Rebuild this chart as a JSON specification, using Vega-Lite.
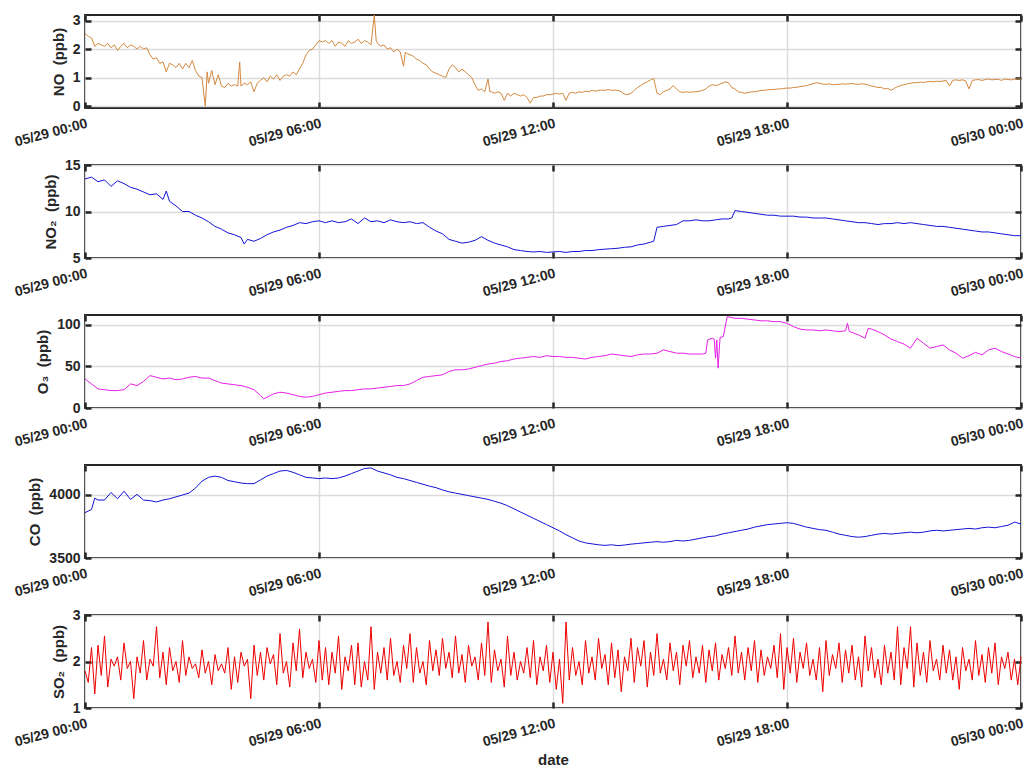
{
  "$schema": "https://vega.github.io/schema/vega-lite/v6.json",
  "background": "white",
  "padding": {"left": 11, "top": 12, "right": 0, "bottom": 0},
  "spacing": 57,
  "bounds": "flush",
  "config": {
    "font": "Liberation Sans",
    "view": {"stroke": "#262626", "strokeWidth": 2},
    "axis": {
      "labelFont": "Liberation Sans", "labelFontWeight": "bold", "labelFontSize": 14, "labelColor": "#262626",
      "titleFont": "Liberation Sans", "titleFontWeight": "bold", "titleFontSize": 15, "titleColor": "#262626",
      "tickColor": "#262626", "tickWidth": 2.5, "tickSize": -6, "domain": false,
      "gridColor": "#dcdcdc", "gridWidth": 1.5, "labelOverlap": false, "labelFlush": false
    },
    "axisX": {"labelAngle": -15, "labelAlign": "right", "labelBaseline": "top", "labelPadding": 14, "titlePadding": 4},
    "axisY": {"labelPadding": 11, "titlePadding": 6}
  },
  "datasets": {
    "no": [
      {"m":0,"v":2.55},{"m":5,"v":2.45},{"m":10,"v":2.4},{"m":15,"v":2.1},{"m":20,"v":2.2},{"m":25,"v":2.15},{"m":30,"v":2.1},{"m":35,"v":2.2},{"m":40,"v":2.05},{"m":45,"v":2.15},{"m":50,"v":1.95},{"m":55,"v":2.1},{"m":60,"v":2.2},{"m":65,"v":2.05},{"m":70,"v":2.15},{"m":75,"v":2.1},{"m":80,"v":2.0},{"m":85,"v":2.1},{"m":90,"v":2.0},{"m":95,"v":2.05},
      {"m":100,"v":1.8},{"m":105,"v":1.65},{"m":110,"v":1.7},{"m":115,"v":1.5},{"m":120,"v":1.55},{"m":125,"v":1.2},{"m":130,"v":1.5},{"m":135,"v":1.45},{"m":140,"v":1.35},{"m":145,"v":1.5},{"m":150,"v":1.3},{"m":155,"v":1.5},{"m":160,"v":1.35},{"m":165,"v":1.6},{"m":170,"v":1.25},{"m":175,"v":1.05},{"m":180,"v":1.0},{"m":185,"v":0.0},{"m":188,"v":1.2},{"m":190,"v":0.8},{"m":195,"v":1.25},
      {"m":200,"v":0.75},{"m":205,"v":1.1},{"m":210,"v":0.7},{"m":215,"v":0.65},{"m":220,"v":0.8},{"m":225,"v":0.7},{"m":230,"v":0.75},{"m":235,"v":0.7},{"m":238,"v":1.55},{"m":240,"v":0.7},{"m":245,"v":0.8},{"m":250,"v":0.75},{"m":255,"v":0.85},{"m":260,"v":0.5},{"m":265,"v":0.8},{"m":270,"v":0.9},{"m":275,"v":1.0},{"m":280,"v":0.85},{"m":285,"v":1.05},{"m":290,"v":0.95},{"m":295,"v":1.1},
      {"m":300,"v":0.9},{"m":305,"v":1.05},{"m":310,"v":1.1},{"m":315,"v":1.05},{"m":320,"v":1.2},{"m":325,"v":1.1},{"m":330,"v":1.3},{"m":335,"v":1.5},{"m":340,"v":1.8},{"m":345,"v":1.95},{"m":350,"v":2.0},{"m":355,"v":2.15},{"m":360,"v":2.3},{"m":365,"v":2.25},{"m":370,"v":2.3},{"m":375,"v":2.2},{"m":380,"v":2.3},{"m":385,"v":2.1},{"m":390,"v":2.25},{"m":395,"v":2.2},
      {"m":400,"v":2.1},{"m":405,"v":2.3},{"m":410,"v":2.2},{"m":415,"v":2.25},{"m":420,"v":2.35},{"m":425,"v":2.2},{"m":430,"v":2.3},{"m":435,"v":2.25},{"m":440,"v":2.15},{"m":445,"v":3.2},{"m":448,"v":2.3},{"m":450,"v":2.2},{"m":455,"v":2.1},{"m":460,"v":2.15},{"m":465,"v":2.0},{"m":470,"v":2.05},{"m":475,"v":1.9},{"m":480,"v":2.0},{"m":485,"v":1.9},{"m":490,"v":1.4},{"m":493,"v":1.9},{"m":495,"v":1.85},
      {"m":500,"v":1.8},{"m":505,"v":1.75},{"m":510,"v":1.65},{"m":515,"v":1.6},{"m":520,"v":1.5},{"m":525,"v":1.45},{"m":530,"v":1.3},{"m":535,"v":1.2},{"m":540,"v":1.15},{"m":545,"v":1.1},{"m":550,"v":1.05},{"m":555,"v":1.0},{"m":560,"v":1.3},{"m":565,"v":1.45},{"m":570,"v":1.35},{"m":575,"v":1.2},{"m":580,"v":1.3},{"m":585,"v":1.2},{"m":590,"v":1.1},{"m":595,"v":1.0},
      {"m":600,"v":0.75},{"m":605,"v":0.55},{"m":610,"v":0.6},{"m":615,"v":0.5},{"m":620,"v":0.95},{"m":623,"v":0.5},{"m":625,"v":0.5},{"m":630,"v":0.45},{"m":635,"v":0.5},{"m":640,"v":0.45},{"m":645,"v":0.2},{"m":650,"v":0.45},{"m":655,"v":0.35},{"m":660,"v":0.45},{"m":665,"v":0.4},{"m":670,"v":0.35},{"m":675,"v":0.4},{"m":680,"v":0.3},{"m":685,"v":0.1},{"m":690,"v":0.3},{"m":695,"v":0.3},
      {"m":700,"v":0.35},{"m":705,"v":0.35},{"m":710,"v":0.4},{"m":715,"v":0.4},{"m":720,"v":0.42},{"m":725,"v":0.45},{"m":730,"v":0.42},{"m":735,"v":0.45},{"m":740,"v":0.2},{"m":745,"v":0.45},{"m":750,"v":0.48},{"m":755,"v":0.45},{"m":760,"v":0.5},{"m":765,"v":0.48},{"m":770,"v":0.52},{"m":775,"v":0.5},{"m":780,"v":0.55},{"m":785,"v":0.52},{"m":790,"v":0.55},{"m":795,"v":0.56},
      {"m":800,"v":0.55},{"m":805,"v":0.58},{"m":810,"v":0.55},{"m":815,"v":0.56},{"m":820,"v":0.55},{"m":825,"v":0.5},{"m":830,"v":0.42},{"m":835,"v":0.4},{"m":840,"v":0.45},{"m":845,"v":0.55},{"m":850,"v":0.65},{"m":855,"v":0.72},{"m":860,"v":0.8},{"m":865,"v":0.85},{"m":870,"v":0.92},{"m":875,"v":0.97},{"m":880,"v":0.45},{"m":885,"v":0.4},{"m":890,"v":0.5},{"m":895,"v":0.55},
      {"m":900,"v":0.6},{"m":905,"v":0.72},{"m":910,"v":0.6},{"m":915,"v":0.5},{"m":920,"v":0.48},{"m":925,"v":0.5},{"m":930,"v":0.48},{"m":935,"v":0.5},{"m":940,"v":0.5},{"m":945,"v":0.52},{"m":950,"v":0.55},{"m":955,"v":0.6},{"m":960,"v":0.7},{"m":965,"v":0.75},{"m":970,"v":0.72},{"m":975,"v":0.75},{"m":980,"v":0.8},{"m":985,"v":0.85},{"m":990,"v":0.82},{"m":995,"v":0.65},
      {"m":1000,"v":0.6},{"m":1005,"v":0.5},{"m":1010,"v":0.48},{"m":1015,"v":0.45},{"m":1020,"v":0.47},{"m":1025,"v":0.5},{"m":1030,"v":0.5},{"m":1035,"v":0.52},{"m":1040,"v":0.55},{"m":1045,"v":0.55},{"m":1050,"v":0.57},{"m":1055,"v":0.58},{"m":1060,"v":0.58},{"m":1065,"v":0.6},{"m":1070,"v":0.6},{"m":1075,"v":0.62},{"m":1080,"v":0.63},{"m":1085,"v":0.63},{"m":1090,"v":0.65},{"m":1095,"v":0.66},
      {"m":1100,"v":0.68},{"m":1105,"v":0.7},{"m":1110,"v":0.72},{"m":1115,"v":0.75},{"m":1120,"v":0.78},{"m":1125,"v":0.82},{"m":1130,"v":0.8},{"m":1135,"v":0.77},{"m":1140,"v":0.76},{"m":1145,"v":0.78},{"m":1150,"v":0.75},{"m":1155,"v":0.76},{"m":1160,"v":0.76},{"m":1165,"v":0.78},{"m":1170,"v":0.77},{"m":1175,"v":0.78},{"m":1180,"v":0.79},{"m":1185,"v":0.77},{"m":1190,"v":0.76},{"m":1195,"v":0.78},
      {"m":1200,"v":0.77},{"m":1205,"v":0.74},{"m":1210,"v":0.7},{"m":1215,"v":0.68},{"m":1220,"v":0.65},{"m":1225,"v":0.66},{"m":1230,"v":0.6},{"m":1235,"v":0.62},{"m":1240,"v":0.55},{"m":1245,"v":0.62},{"m":1250,"v":0.68},{"m":1255,"v":0.72},{"m":1260,"v":0.75},{"m":1265,"v":0.78},{"m":1270,"v":0.8},{"m":1275,"v":0.82},{"m":1280,"v":0.82},{"m":1285,"v":0.84},{"m":1290,"v":0.83},{"m":1295,"v":0.85},
      {"m":1300,"v":0.86},{"m":1305,"v":0.85},{"m":1310,"v":0.87},{"m":1315,"v":0.86},{"m":1320,"v":0.88},{"m":1325,"v":0.9},{"m":1330,"v":0.7},{"m":1335,"v":0.9},{"m":1340,"v":0.92},{"m":1345,"v":0.9},{"m":1350,"v":0.92},{"m":1355,"v":0.88},{"m":1360,"v":0.6},{"m":1365,"v":0.9},{"m":1370,"v":0.92},{"m":1375,"v":0.93},{"m":1380,"v":0.9},{"m":1385,"v":0.93},{"m":1390,"v":0.95},{"m":1395,"v":0.92},
      {"m":1400,"v":0.93},{"m":1405,"v":0.94},{"m":1410,"v":0.9},{"m":1415,"v":0.95},{"m":1420,"v":0.93},{"m":1425,"v":0.92},{"m":1430,"v":0.94},{"m":1435,"v":0.95},{"m":1440,"v":0.95}
    ],
    "no2": [
      {"m":0,"v":13.5},{"m":10,"v":13.7},{"m":20,"v":13.2},{"m":30,"v":13.4},{"m":40,"v":12.7},{"m":50,"v":13.3},{"m":60,"v":13.0},{"m":70,"v":12.6},{"m":80,"v":12.4},{"m":90,"v":12.1},{"m":100,"v":11.8},{"m":110,"v":11.9},{"m":120,"v":11.3},{"m":125,"v":12.2},{"m":130,"v":11.1},{"m":140,"v":10.6},{"m":150,"v":10.0},{"m":160,"v":10.0},{"m":170,"v":9.6},{"m":180,"v":9.3},{"m":190,"v":8.9},
      {"m":200,"v":8.4},{"m":210,"v":8.1},{"m":220,"v":7.7},{"m":230,"v":7.5},{"m":240,"v":7.2},{"m":245,"v":6.5},{"m":250,"v":7.0},{"m":260,"v":6.8},{"m":270,"v":7.1},{"m":280,"v":7.5},{"m":290,"v":7.8},{"m":300,"v":8.0},{"m":310,"v":8.3},{"m":320,"v":8.5},{"m":330,"v":8.8},{"m":340,"v":8.7},{"m":350,"v":8.9},{"m":360,"v":9.0},{"m":370,"v":8.8},{"m":380,"v":9.0},{"m":390,"v":8.8},
      {"m":400,"v":8.9},{"m":410,"v":9.2},{"m":420,"v":8.7},{"m":430,"v":9.3},{"m":440,"v":8.9},{"m":450,"v":9.0},{"m":460,"v":8.8},{"m":470,"v":9.1},{"m":480,"v":8.9},{"m":490,"v":8.8},{"m":500,"v":8.9},{"m":510,"v":8.7},{"m":520,"v":8.8},{"m":530,"v":8.3},{"m":540,"v":7.9},{"m":550,"v":7.6},{"m":560,"v":7.0},{"m":570,"v":6.8},{"m":580,"v":6.6},{"m":590,"v":6.7},
      {"m":600,"v":6.9},{"m":610,"v":7.3},{"m":620,"v":6.9},{"m":630,"v":6.6},{"m":640,"v":6.4},{"m":650,"v":6.2},{"m":660,"v":5.9},{"m":670,"v":5.8},{"m":680,"v":5.7},{"m":690,"v":5.65},{"m":700,"v":5.7},{"m":710,"v":5.6},{"m":720,"v":5.65},{"m":730,"v":5.7},{"m":740,"v":5.6},{"m":750,"v":5.7},{"m":760,"v":5.7},{"m":770,"v":5.8},{"m":780,"v":5.8},{"m":790,"v":5.9},
      {"m":800,"v":5.95},{"m":810,"v":6.0},{"m":820,"v":6.05},{"m":830,"v":6.15},{"m":840,"v":6.2},{"m":850,"v":6.4},{"m":860,"v":6.5},{"m":870,"v":6.7},{"m":875,"v":6.8},{"m":880,"v":8.3},{"m":890,"v":8.4},{"m":900,"v":8.5},{"m":910,"v":8.6},{"m":920,"v":9.0},{"m":930,"v":9.0},{"m":940,"v":9.1},{"m":950,"v":9.0},{"m":960,"v":9.0},{"m":970,"v":9.1},{"m":980,"v":9.2},{"m":990,"v":9.2},{"m":995,"v":9.3},
      {"m":1000,"v":10.1},{"m":1010,"v":10.0},{"m":1020,"v":9.9},{"m":1030,"v":9.8},{"m":1040,"v":9.7},{"m":1050,"v":9.6},{"m":1060,"v":9.6},{"m":1070,"v":9.5},{"m":1080,"v":9.5},{"m":1090,"v":9.5},{"m":1100,"v":9.4},{"m":1110,"v":9.4},{"m":1120,"v":9.3},{"m":1130,"v":9.3},{"m":1140,"v":9.3},{"m":1150,"v":9.2},{"m":1160,"v":9.1},{"m":1170,"v":9.0},{"m":1180,"v":8.9},{"m":1190,"v":8.8},
      {"m":1200,"v":8.8},{"m":1210,"v":8.7},{"m":1220,"v":8.6},{"m":1230,"v":8.7},{"m":1240,"v":8.7},{"m":1250,"v":8.8},{"m":1260,"v":8.7},{"m":1270,"v":8.8},{"m":1280,"v":8.7},{"m":1290,"v":8.6},{"m":1300,"v":8.5},{"m":1310,"v":8.4},{"m":1320,"v":8.4},{"m":1330,"v":8.3},{"m":1340,"v":8.2},{"m":1350,"v":8.1},{"m":1360,"v":8.0},{"m":1370,"v":7.9},{"m":1380,"v":7.8},{"m":1390,"v":7.8},
      {"m":1400,"v":7.7},{"m":1410,"v":7.6},{"m":1420,"v":7.5},{"m":1430,"v":7.4},{"m":1440,"v":7.4}
    ],
    "o3": [
      {"m":0,"v":35},{"m":10,"v":29},{"m":20,"v":23},{"m":30,"v":22},{"m":40,"v":21},{"m":50,"v":21},{"m":60,"v":22},{"m":70,"v":29},{"m":80,"v":27},{"m":90,"v":32},{"m":100,"v":39},{"m":110,"v":37},{"m":120,"v":35},{"m":130,"v":36},{"m":140,"v":34},{"m":150,"v":35},{"m":160,"v":37},{"m":170,"v":38},{"m":180,"v":36},{"m":190,"v":36},
      {"m":200,"v":33},{"m":210,"v":30},{"m":220,"v":29},{"m":230,"v":28},{"m":240,"v":27},{"m":250,"v":25},{"m":260,"v":22},{"m":270,"v":15},{"m":275,"v":11},{"m":280,"v":13},{"m":290,"v":17},{"m":300,"v":19},{"m":310,"v":18},{"m":320,"v":16},{"m":330,"v":14},{"m":340,"v":13},{"m":350,"v":14},{"m":360,"v":16},{"m":370,"v":18},{"m":380,"v":19},{"m":390,"v":20},
      {"m":400,"v":21},{"m":410,"v":21},{"m":420,"v":22},{"m":430,"v":23},{"m":440,"v":23},{"m":450,"v":24},{"m":460,"v":25},{"m":470,"v":26},{"m":480,"v":27},{"m":490,"v":27},{"m":500,"v":29},{"m":510,"v":33},{"m":520,"v":37},{"m":530,"v":38},{"m":540,"v":39},{"m":550,"v":40},{"m":560,"v":44},{"m":570,"v":46},{"m":580,"v":46},{"m":590,"v":47},
      {"m":600,"v":49},{"m":610,"v":51},{"m":620,"v":53},{"m":630,"v":54},{"m":640,"v":56},{"m":650,"v":57},{"m":660,"v":59},{"m":670,"v":60},{"m":680,"v":61},{"m":690,"v":62},{"m":700,"v":61},{"m":710,"v":63},{"m":720,"v":62},{"m":730,"v":62},{"m":740,"v":61},{"m":750,"v":61},{"m":760,"v":60},{"m":770,"v":59},{"m":780,"v":61},{"m":790,"v":62},
      {"m":800,"v":63},{"m":810,"v":65},{"m":820,"v":64},{"m":830,"v":63},{"m":840,"v":62},{"m":850,"v":64},{"m":860,"v":65},{"m":870,"v":65},{"m":880,"v":66},{"m":890,"v":70},{"m":900,"v":68},{"m":910,"v":66},{"m":920,"v":66},{"m":930,"v":65},{"m":940,"v":65},{"m":950,"v":65},{"m":955,"v":66},{"m":958,"v":82},{"m":965,"v":84},{"m":968,"v":83},{"m":970,"v":60},{"m":972,"v":82},{"m":974,"v":48},{"m":977,"v":85},{"m":982,"v":86},{"m":988,"v":110},
      {"m":1000,"v":108},{"m":1010,"v":108},{"m":1020,"v":107},{"m":1030,"v":106},{"m":1040,"v":105},{"m":1050,"v":105},{"m":1060,"v":104},{"m":1070,"v":104},{"m":1080,"v":102},{"m":1090,"v":98},{"m":1100,"v":95},{"m":1110,"v":94},{"m":1120,"v":94},{"m":1130,"v":93},{"m":1140,"v":94},{"m":1150,"v":93},{"m":1160,"v":92},{"m":1170,"v":93},{"m":1173,"v":102},{"m":1176,"v":92},{"m":1180,"v":91},{"m":1190,"v":88},
      {"m":1200,"v":84},{"m":1205,"v":96},{"m":1210,"v":95},{"m":1220,"v":92},{"m":1230,"v":88},{"m":1240,"v":83},{"m":1250,"v":80},{"m":1260,"v":77},{"m":1270,"v":72},{"m":1280,"v":84},{"m":1290,"v":78},{"m":1300,"v":72},{"m":1310,"v":74},{"m":1320,"v":76},{"m":1330,"v":70},{"m":1340,"v":66},{"m":1350,"v":60},{"m":1360,"v":63},{"m":1370,"v":67},{"m":1380,"v":64},{"m":1390,"v":70},
      {"m":1400,"v":72},{"m":1410,"v":68},{"m":1420,"v":65},{"m":1430,"v":62},{"m":1440,"v":60}
    ],
    "co": [
      {"m":0,"v":3860},{"m":10,"v":3885},{"m":15,"v":3975},{"m":20,"v":3960},{"m":30,"v":3960},{"m":40,"v":4020},{"m":50,"v":3970},{"m":60,"v":4030},{"m":70,"v":3965},{"m":80,"v":4005},{"m":90,"v":3960},{"m":100,"v":3955},{"m":110,"v":3945},{"m":120,"v":3960},{"m":130,"v":3970},{"m":140,"v":3985},{"m":150,"v":4000},{"m":160,"v":4015},{"m":170,"v":4055},{"m":180,"v":4110},{"m":190,"v":4140},
      {"m":200,"v":4150},{"m":210,"v":4140},{"m":220,"v":4115},{"m":230,"v":4105},{"m":240,"v":4095},{"m":250,"v":4090},{"m":260,"v":4090},{"m":270,"v":4120},{"m":280,"v":4150},{"m":290,"v":4170},{"m":300,"v":4190},{"m":310,"v":4195},{"m":320,"v":4180},{"m":330,"v":4160},{"m":340,"v":4140},{"m":350,"v":4135},{"m":360,"v":4130},{"m":370,"v":4135},{"m":380,"v":4130},{"m":390,"v":4135},
      {"m":400,"v":4150},{"m":410,"v":4170},{"m":420,"v":4190},{"m":430,"v":4210},{"m":440,"v":4215},{"m":450,"v":4190},{"m":460,"v":4175},{"m":470,"v":4160},{"m":480,"v":4140},{"m":490,"v":4130},{"m":500,"v":4115},{"m":510,"v":4100},{"m":520,"v":4085},{"m":530,"v":4070},{"m":540,"v":4058},{"m":550,"v":4040},{"m":560,"v":4025},{"m":570,"v":4015},{"m":580,"v":4005},{"m":590,"v":3995},
      {"m":600,"v":3985},{"m":610,"v":3975},{"m":620,"v":3965},{"m":630,"v":3950},{"m":640,"v":3935},{"m":650,"v":3915},{"m":660,"v":3890},{"m":670,"v":3865},{"m":680,"v":3840},{"m":690,"v":3815},{"m":700,"v":3790},{"m":710,"v":3765},{"m":720,"v":3740},{"m":730,"v":3715},{"m":740,"v":3685},{"m":750,"v":3660},{"m":760,"v":3635},{"m":770,"v":3620},{"m":780,"v":3612},{"m":790,"v":3605},
      {"m":800,"v":3600},{"m":810,"v":3605},{"m":820,"v":3598},{"m":830,"v":3603},{"m":840,"v":3610},{"m":850,"v":3615},{"m":860,"v":3620},{"m":870,"v":3625},{"m":880,"v":3630},{"m":890,"v":3625},{"m":900,"v":3630},{"m":910,"v":3640},{"m":920,"v":3635},{"m":930,"v":3640},{"m":940,"v":3650},{"m":950,"v":3660},{"m":960,"v":3670},{"m":970,"v":3675},{"m":980,"v":3690},{"m":990,"v":3700},
      {"m":1000,"v":3710},{"m":1010,"v":3720},{"m":1020,"v":3730},{"m":1030,"v":3745},{"m":1040,"v":3755},{"m":1050,"v":3765},{"m":1060,"v":3770},{"m":1070,"v":3775},{"m":1080,"v":3780},{"m":1090,"v":3775},{"m":1100,"v":3760},{"m":1110,"v":3745},{"m":1120,"v":3735},{"m":1130,"v":3725},{"m":1140,"v":3720},{"m":1150,"v":3705},{"m":1160,"v":3690},{"m":1170,"v":3680},{"m":1180,"v":3670},{"m":1190,"v":3665},
      {"m":1200,"v":3670},{"m":1210,"v":3680},{"m":1220,"v":3690},{"m":1230,"v":3695},{"m":1240,"v":3690},{"m":1250,"v":3695},{"m":1260,"v":3700},{"m":1270,"v":3705},{"m":1280,"v":3700},{"m":1290,"v":3705},{"m":1300,"v":3715},{"m":1310,"v":3720},{"m":1320,"v":3715},{"m":1330,"v":3720},{"m":1340,"v":3725},{"m":1350,"v":3730},{"m":1360,"v":3735},{"m":1370,"v":3730},{"m":1380,"v":3740},{"m":1390,"v":3745},
      {"m":1400,"v":3740},{"m":1410,"v":3750},{"m":1420,"v":3760},{"m":1430,"v":3785},{"m":1440,"v":3770}
    ],
    "so2": [
      {"m":0,"v":1.8},{"m":5,"v":1.55},{"m":10,"v":2.3},{"m":15,"v":1.3},{"m":20,"v":2.35},{"m":25,"v":1.7},{"m":30,"v":2.55},{"m":35,"v":1.45},{"m":40,"v":2.05},{"m":45,"v":1.9},{"m":50,"v":2.1},{"m":55,"v":1.6},{"m":60,"v":2.4},{"m":65,"v":1.85},{"m":70,"v":2.0},{"m":75,"v":1.2},{"m":80,"v":2.1},{"m":85,"v":1.75},{"m":90,"v":2.45},{"m":95,"v":1.6},
      {"m":100,"v":2.05},{"m":105,"v":1.9},{"m":110,"v":2.75},{"m":115,"v":1.65},{"m":120,"v":2.2},{"m":125,"v":1.5},{"m":130,"v":2.3},{"m":135,"v":1.8},{"m":140,"v":2.0},{"m":145,"v":1.55},{"m":150,"v":2.45},{"m":155,"v":1.7},{"m":160,"v":2.1},{"m":165,"v":1.85},{"m":170,"v":1.95},{"m":175,"v":1.65},{"m":180,"v":2.25},{"m":185,"v":1.75},{"m":190,"v":2.0},{"m":195,"v":1.5},
      {"m":200,"v":2.15},{"m":205,"v":1.8},{"m":210,"v":1.95},{"m":215,"v":1.75},{"m":220,"v":2.3},{"m":225,"v":1.4},{"m":230,"v":2.1},{"m":235,"v":1.55},{"m":240,"v":2.2},{"m":245,"v":1.9},{"m":250,"v":2.05},{"m":255,"v":1.2},{"m":260,"v":2.35},{"m":265,"v":1.7},{"m":270,"v":2.2},{"m":275,"v":1.6},{"m":280,"v":2.3},{"m":285,"v":1.95},{"m":290,"v":2.15},{"m":295,"v":1.5},
      {"m":300,"v":2.6},{"m":305,"v":1.75},{"m":310,"v":2.0},{"m":315,"v":1.45},{"m":320,"v":2.4},{"m":325,"v":1.8},{"m":330,"v":2.7},{"m":335,"v":1.65},{"m":340,"v":2.2},{"m":345,"v":1.85},{"m":350,"v":2.05},{"m":355,"v":1.55},{"m":360,"v":2.45},{"m":365,"v":1.6},{"m":370,"v":2.3},{"m":375,"v":1.5},{"m":380,"v":2.2},{"m":385,"v":1.75},{"m":390,"v":2.55},{"m":395,"v":1.4},
      {"m":400,"v":2.1},{"m":405,"v":1.8},{"m":410,"v":2.35},{"m":415,"v":1.5},{"m":420,"v":2.4},{"m":425,"v":1.45},{"m":430,"v":2.0},{"m":435,"v":1.6},{"m":440,"v":2.75},{"m":445,"v":1.4},{"m":450,"v":2.2},{"m":455,"v":1.75},{"m":460,"v":2.3},{"m":465,"v":1.6},{"m":470,"v":2.5},{"m":475,"v":1.7},{"m":480,"v":2.0},{"m":485,"v":1.55},{"m":490,"v":2.35},{"m":495,"v":1.85},
      {"m":500,"v":2.6},{"m":505,"v":1.55},{"m":510,"v":2.3},{"m":515,"v":1.75},{"m":520,"v":2.0},{"m":525,"v":1.5},{"m":530,"v":2.45},{"m":535,"v":1.8},{"m":540,"v":2.25},{"m":545,"v":1.7},{"m":550,"v":2.5},{"m":555,"v":1.85},{"m":560,"v":2.2},{"m":565,"v":1.65},{"m":570,"v":2.55},{"m":575,"v":1.75},{"m":580,"v":2.15},{"m":585,"v":1.55},{"m":590,"v":2.35},{"m":595,"v":1.9},
      {"m":600,"v":2.1},{"m":605,"v":1.6},{"m":610,"v":2.4},{"m":615,"v":1.7},{"m":620,"v":2.85},{"m":625,"v":1.55},{"m":630,"v":2.25},{"m":635,"v":1.8},{"m":640,"v":2.05},{"m":645,"v":1.45},{"m":650,"v":2.55},{"m":655,"v":1.7},{"m":660,"v":2.2},{"m":665,"v":1.6},{"m":670,"v":2.0},{"m":675,"v":1.75},{"m":680,"v":2.3},{"m":685,"v":1.65},{"m":690,"v":2.45},{"m":695,"v":1.5},
      {"m":700,"v":2.1},{"m":705,"v":1.8},{"m":710,"v":2.35},{"m":715,"v":1.55},{"m":720,"v":2.2},{"m":725,"v":1.4},{"m":730,"v":2.05},{"m":735,"v":1.1},{"m":740,"v":2.85},{"m":745,"v":1.6},{"m":750,"v":2.3},{"m":755,"v":1.7},{"m":760,"v":2.0},{"m":765,"v":1.5},{"m":770,"v":2.45},{"m":775,"v":1.75},{"m":780,"v":2.1},{"m":785,"v":1.6},{"m":790,"v":2.5},{"m":795,"v":1.85},
      {"m":800,"v":2.15},{"m":805,"v":1.5},{"m":810,"v":2.4},{"m":815,"v":1.65},{"m":820,"v":2.25},{"m":825,"v":1.35},{"m":830,"v":2.1},{"m":835,"v":1.8},{"m":840,"v":2.5},{"m":845,"v":1.55},{"m":850,"v":2.3},{"m":855,"v":1.9},{"m":860,"v":2.45},{"m":865,"v":1.45},{"m":870,"v":2.2},{"m":875,"v":1.7},{"m":880,"v":2.6},{"m":885,"v":1.75},{"m":890,"v":2.05},{"m":895,"v":1.6},
      {"m":900,"v":2.4},{"m":905,"v":1.8},{"m":910,"v":2.2},{"m":915,"v":1.5},{"m":920,"v":2.35},{"m":925,"v":1.9},{"m":930,"v":2.45},{"m":935,"v":1.65},{"m":940,"v":2.1},{"m":945,"v":1.75},{"m":950,"v":2.35},{"m":955,"v":1.55},{"m":960,"v":2.25},{"m":965,"v":1.8},{"m":970,"v":2.4},{"m":975,"v":1.6},{"m":980,"v":2.15},{"m":985,"v":1.85},{"m":990,"v":2.3},{"m":995,"v":1.7},
      {"m":1000,"v":2.55},{"m":1005,"v":1.75},{"m":1010,"v":2.2},{"m":1015,"v":1.6},{"m":1020,"v":2.3},{"m":1025,"v":1.8},{"m":1030,"v":2.45},{"m":1035,"v":1.55},{"m":1040,"v":2.25},{"m":1045,"v":1.7},{"m":1050,"v":2.1},{"m":1055,"v":1.85},{"m":1060,"v":2.35},{"m":1065,"v":1.65},{"m":1070,"v":2.6},{"m":1075,"v":1.4},{"m":1080,"v":2.3},{"m":1085,"v":1.75},{"m":1090,"v":2.5},{"m":1095,"v":1.55},
      {"m":1100,"v":2.2},{"m":1105,"v":1.85},{"m":1110,"v":2.4},{"m":1115,"v":1.7},{"m":1120,"v":2.05},{"m":1125,"v":1.6},{"m":1130,"v":2.3},{"m":1135,"v":1.35},{"m":1140,"v":2.45},{"m":1145,"v":1.7},{"m":1150,"v":2.15},{"m":1155,"v":1.85},{"m":1160,"v":2.4},{"m":1165,"v":1.55},{"m":1170,"v":2.25},{"m":1175,"v":1.75},{"m":1180,"v":2.35},{"m":1185,"v":1.6},{"m":1190,"v":2.1},{"m":1195,"v":1.45},
      {"m":1200,"v":2.55},{"m":1205,"v":1.8},{"m":1210,"v":2.3},{"m":1215,"v":1.65},{"m":1220,"v":2.05},{"m":1225,"v":1.5},{"m":1230,"v":2.35},{"m":1235,"v":1.75},{"m":1240,"v":2.2},{"m":1245,"v":1.6},{"m":1250,"v":2.75},{"m":1255,"v":1.5},{"m":1260,"v":2.3},{"m":1265,"v":1.85},{"m":1270,"v":2.75},{"m":1275,"v":1.45},{"m":1280,"v":2.4},{"m":1285,"v":1.7},{"m":1290,"v":2.2},{"m":1295,"v":1.55},
      {"m":1300,"v":2.45},{"m":1305,"v":1.8},{"m":1310,"v":2.05},{"m":1315,"v":1.6},{"m":1320,"v":2.35},{"m":1325,"v":1.75},{"m":1330,"v":2.25},{"m":1335,"v":1.6},{"m":1340,"v":2.1},{"m":1345,"v":1.4},{"m":1350,"v":2.3},{"m":1355,"v":1.8},{"m":1360,"v":2.05},{"m":1365,"v":1.6},{"m":1370,"v":2.45},{"m":1375,"v":1.7},{"m":1380,"v":2.15},{"m":1385,"v":1.55},{"m":1390,"v":2.3},{"m":1395,"v":1.75},
      {"m":1400,"v":2.4},{"m":1405,"v":1.5},{"m":1410,"v":2.1},{"m":1415,"v":1.85},{"m":1420,"v":2.2},{"m":1425,"v":1.6},{"m":1430,"v":2.05},{"m":1435,"v":1.5},{"m":1440,"v":2.1}
    ]
  },
  "vconcat": [
    {
      "width": 936, "height": 93,
      "data": {"name": "no"},
      "layer": [
        {"mark": {"type": "line", "color": "#d4893f", "strokeWidth": 1},
         "encoding": {
           "x": {"field": "m", "type": "quantitative", "scale": {"domain": [0, 1440], "nice": false, "zero": false},
                 "axis": {"orient": "bottom", "title": null, "values": [0, 360, 720, 1080, 1440], "grid": true, "labelOverlap": false,
                          "labelExpr": "datum.value == 1440 ? '05/30 00:00' : '05/29 ' + (datum.value < 600 ? '0' : '') + (datum.value / 60) + ':00'"}},
           "y": {"field": "v", "type": "quantitative", "scale": {"domain": [-0.07, 3.2], "nice": false, "zero": false},
                 "axis": {"orient": "left", "title": "NO\u00a0 (ppb)", "values": [0, 1, 2, 3], "grid": true, "format": "d", "labelOverlap": false}}
         }},
        {"mark": {"type": "line", "opacity": 0},
         "encoding": {
           "x": {"field": "m", "type": "quantitative", "axis": {"orient": "top", "title": null, "labels": false, "grid": false, "values": [0, 360, 720, 1080, 1440]}},
           "y": {"field": "v", "type": "quantitative", "axis": {"orient": "right", "title": null, "labels": false, "grid": false, "values": [0, 1, 2, 3]}}
         }}
      ],
      "resolve": {"axis": {"x": "independent", "y": "independent"}}
    },
    {
      "width": 936, "height": 93,
      "data": {"name": "no2"},
      "layer": [
        {"mark": {"type": "line", "color": "#1414d8", "strokeWidth": 1},
         "encoding": {
           "x": {"field": "m", "type": "quantitative", "scale": {"domain": [0, 1440], "nice": false, "zero": false},
                 "axis": {"orient": "bottom", "title": null, "values": [0, 360, 720, 1080, 1440], "grid": true, "labelOverlap": false,
                          "labelExpr": "datum.value == 1440 ? '05/30 00:00' : '05/29 ' + (datum.value < 600 ? '0' : '') + (datum.value / 60) + ':00'"}},
           "y": {"field": "v", "type": "quantitative", "scale": {"domain": [5, 15], "nice": false, "zero": false},
                 "axis": {"orient": "left", "title": "NO₂\u00a0 (ppb)", "values": [5, 10, 15], "grid": true, "format": "d", "labelOverlap": false}}
         }},
        {"mark": {"type": "line", "opacity": 0},
         "encoding": {
           "x": {"field": "m", "type": "quantitative", "axis": {"orient": "top", "title": null, "labels": false, "grid": false, "values": [0, 360, 720, 1080, 1440]}},
           "y": {"field": "v", "type": "quantitative", "axis": {"orient": "right", "title": null, "labels": false, "grid": false, "values": [5, 10, 15]}}
         }}
      ],
      "resolve": {"axis": {"x": "independent", "y": "independent"}}
    },
    {
      "width": 936, "height": 93,
      "data": {"name": "o3"},
      "layer": [
        {"mark": {"type": "line", "color": "#e620e6", "strokeWidth": 1},
         "encoding": {
           "x": {"field": "m", "type": "quantitative", "scale": {"domain": [0, 1440], "nice": false, "zero": false},
                 "axis": {"orient": "bottom", "title": null, "values": [0, 360, 720, 1080, 1440], "grid": true, "labelOverlap": false,
                          "labelExpr": "datum.value == 1440 ? '05/30 00:00' : '05/29 ' + (datum.value < 600 ? '0' : '') + (datum.value / 60) + ':00'"}},
           "y": {"field": "v", "type": "quantitative", "scale": {"domain": [0, 112], "nice": false, "zero": false},
                 "axis": {"orient": "left", "title": "O₃\u00a0 (ppb)", "values": [0, 50, 100], "grid": true, "format": "d", "labelOverlap": false}}
         }},
        {"mark": {"type": "line", "opacity": 0},
         "encoding": {
           "x": {"field": "m", "type": "quantitative", "axis": {"orient": "top", "title": null, "labels": false, "grid": false, "values": [0, 360, 720, 1080, 1440]}},
           "y": {"field": "v", "type": "quantitative", "axis": {"orient": "right", "title": null, "labels": false, "grid": false, "values": [0, 50, 100]}}
         }}
      ],
      "resolve": {"axis": {"x": "independent", "y": "independent"}}
    },
    {
      "width": 936, "height": 93,
      "data": {"name": "co"},
      "layer": [
        {"mark": {"type": "line", "color": "#1414d8", "strokeWidth": 1},
         "encoding": {
           "x": {"field": "m", "type": "quantitative", "scale": {"domain": [0, 1440], "nice": false, "zero": false},
                 "axis": {"orient": "bottom", "title": null, "values": [0, 360, 720, 1080, 1440], "grid": true, "labelOverlap": false,
                          "labelExpr": "datum.value == 1440 ? '05/30 00:00' : '05/29 ' + (datum.value < 600 ? '0' : '') + (datum.value / 60) + ':00'"}},
           "y": {"field": "v", "type": "quantitative", "scale": {"domain": [3500, 4238], "nice": false, "zero": false},
                 "axis": {"orient": "left", "title": "CO\u00a0 (ppb)", "values": [3500, 4000], "grid": true, "format": "d", "labelOverlap": false}}
         }},
        {"mark": {"type": "line", "opacity": 0},
         "encoding": {
           "x": {"field": "m", "type": "quantitative", "axis": {"orient": "top", "title": null, "labels": false, "grid": false, "values": [0, 360, 720, 1080, 1440]}},
           "y": {"field": "v", "type": "quantitative", "axis": {"orient": "right", "title": null, "labels": false, "grid": false, "values": [3500, 4000]}}
         }}
      ],
      "resolve": {"axis": {"x": "independent", "y": "independent"}}
    },
    {
      "width": 936, "height": 93,
      "data": {"name": "so2"},
      "layer": [
        {"mark": {"type": "line", "color": "#ee0000", "strokeWidth": 1},
         "encoding": {
           "x": {"field": "m", "type": "quantitative", "scale": {"domain": [0, 1440], "nice": false, "zero": false},
                 "axis": {"orient": "bottom", "title": "date", "values": [0, 360, 720, 1080, 1440], "grid": true, "labelOverlap": false,
                          "labelExpr": "datum.value == 1440 ? '05/30 00:00' : '05/29 ' + (datum.value < 600 ? '0' : '') + (datum.value / 60) + ':00'"}},
           "y": {"field": "v", "type": "quantitative", "scale": {"domain": [1, 3], "nice": false, "zero": false},
                 "axis": {"orient": "left", "title": "SO₂\u00a0 (ppb)", "values": [1, 2, 3], "grid": true, "labelOverlap": false,
                          "labelExpr": "datum.value == 1 ? '1' : datum.value == 2 ? '2' : '3'"}}
         }},
        {"mark": {"type": "line", "opacity": 0},
         "encoding": {
           "x": {"field": "m", "type": "quantitative", "axis": {"orient": "top", "title": null, "labels": false, "grid": false, "values": [0, 360, 720, 1080, 1440]}},
           "y": {"field": "v", "type": "quantitative", "axis": {"orient": "right", "title": null, "labels": false, "grid": false, "values": [1, 2, 3]}}
         }}
      ],
      "resolve": {"axis": {"x": "independent", "y": "independent"}}
    }
  ]
}
